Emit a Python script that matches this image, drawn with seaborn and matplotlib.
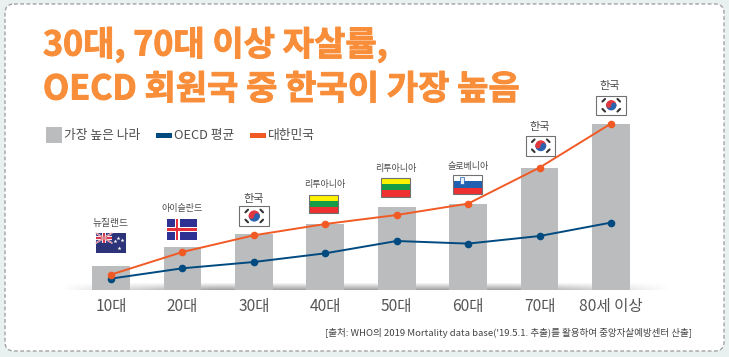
import matplotlib
matplotlib.use("Agg")
import matplotlib.pyplot as plt
import matplotlib.patheffects as pe
import numpy as np
import pandas as pd
import seaborn as sns
from matplotlib.patches import Circle, FancyBboxPatch, Rectangle, Wedge

# values are bar/line heights (no axis in the original)
AGE_GROUPS = ["10대", "20대", "30대", "40대", "50대", "60대", "70대", "80세 이상"]
HIGHEST = [24.5, 43.5, 56.5, 66.5, 83.5, 86.5, 122.5, 166.5]
OECD_AVG = [11.4, 21.7, 28.0, 36.7, 49.0, 46.4, 54.0, 67.4]
KOREA = [15.4, 38.0, 54.7, 66.0, 75.0, 86.4, 122.4, 166.4]
COUNTRIES = ["뉴질랜드", "아이슬란드", "한국", "리투아니아", "리투아니아", "슬로베니아", "한국", "한국"]

W, H = 729, 357
GRAY = "#bbbcbe"
BLUE = "#004a80"
RED = "#f15a24"
ORANGE = "#f98e3a"
TEXT = "#4d4d4d"


def draw_nz(ax, x, y, w, h):
    ax.add_patch(Rectangle((x, y), w, h, fc="#2c3378", ec="none"))
    cw, ch = w * 0.53, h * 0.5
    ax.add_patch(Rectangle((x, y), cw, ch, fc="#3a3f86", ec="none"))
    ax.plot([x, x + cw], [y, y + ch], color="#f4e4e6", lw=1.2)
    ax.plot([x, x + cw], [y + ch, y], color="#f4e4e6", lw=1.2)
    ax.plot([x, x + cw], [y, y + ch], color="#d2394f", lw=0.4)
    ax.plot([x, x + cw], [y + ch, y], color="#d2394f", lw=0.4)
    ax.add_patch(Rectangle((x + cw / 2 - 1.6, y), 3.2, ch, fc="#f4e4e6", ec="none"))
    ax.add_patch(Rectangle((x, y + ch / 2 - 1.6), cw, 3.2, fc="#f4e4e6", ec="none"))
    ax.add_patch(Rectangle((x + cw / 2 - 0.9, y), 1.8, ch, fc="#d2394f", ec="none"))
    ax.add_patch(Rectangle((x, y + ch / 2 - 0.9), cw, 1.8, fc="#d2394f", ec="none"))
    for sx, sy in [(0.75, 0.25), (0.62, 0.42), (0.88, 0.36), (0.76, 0.75)]:
        ax.plot(x + sx * w, y + sy * h, marker="*", ms=3, color="white", mew=0)


def draw_iceland(ax, x, y, w, h):
    ax.add_patch(Rectangle((x, y), w, h, fc="#2e3192", ec="none"))
    cx = x + w * 0.34
    ax.add_patch(Rectangle((cx - 2.6, y), 5.2, h, fc="white", ec="none"))
    ax.add_patch(Rectangle((x, y + h / 2 - 2.6), w, 5.2, fc="white", ec="none"))
    ax.add_patch(Rectangle((cx - 1.3, y), 2.6, h, fc="#e8303a", ec="none"))
    ax.add_patch(Rectangle((x, y + h / 2 - 1.3), w, 2.6, fc="#e8303a", ec="none"))


def draw_lithuania(ax, x, y, w, h):
    for i, c in enumerate(["#fff200", "#169b46", "#ee3130"]):
        ax.add_patch(Rectangle((x, y + i * h / 3), w, h / 3, fc=c, ec="none"))
    ax.add_patch(Rectangle((x, y), w, h, fc="none", ec="#707070", lw=0.8))


def draw_slovenia(ax, x, y, w, h):
    for i, c in enumerate(["white", "#2060b0", "#ee3130"]):
        ax.add_patch(Rectangle((x, y + i * h / 3), w, h / 3, fc=c, ec="none"))
    ax.add_patch(Rectangle((x + 7, y + 2.5), 4.5, 7, fc="#e8eef8", ec="#2060b0", lw=0.5))
    ax.add_patch(Rectangle((x, y), w, h, fc="none", ec="#707070", lw=0.8))


def draw_korea(ax, x, y, w, h):
    ax.add_patch(Rectangle((x, y), w, h, fc="white", ec="#707070", lw=0.8))
    cx, cy = x + w / 2, y + h / 2
    r = h * 0.28
    ax.add_patch(Wedge((cx, cy), r, 180, 360, fc="#e0383e", ec="none"))
    ax.add_patch(Wedge((cx, cy), r, 0, 180, fc="#2a62ad", ec="none"))
    ax.add_patch(Circle((cx - r / 2, cy), r / 2, fc="#e0383e", ec="none"))
    ax.add_patch(Circle((cx + r / 2, cy), r / 2, fc="#2a62ad", ec="none"))
    for sx, sy in [(-1, -1), (1, -1), (-1, 1), (1, 1)]:
        ax.plot([cx + sx * 7.5 - 1.3, cx + sx * 7.5 + 1.3],
                [cy + sy * 5 + sx * sy * 1.3, cy + sy * 5 - sx * sy * 1.3],
                color="#333333", lw=1.5)


def main() -> None:
    sns.set_theme(style="white")
    plt.rcParams["font.family"] = ["Noto Sans CJK KR", "DejaVu Sans"]

    fig = plt.figure(figsize=(W / 100, H / 100), dpi=100, facecolor="#e8f0f0")

    # pixel-space layer for frame, title, legend, flags
    bg = fig.add_axes([0, 0, 1, 1], zorder=0)
    bg.set_xlim(0, W)
    bg.set_ylim(H, 0)
    bg.axis("off")
    bg.add_patch(FancyBboxPatch((13, 12), 703, 331, boxstyle="round,pad=8,rounding_size=9",
                                fc="white", ec="#9a9a9a", lw=0.9, ls=(0, (3, 2))))

    # soft shadow along the base
    fade = np.linspace(0, 1, 8)[:, None] * np.minimum(1, np.minimum(np.linspace(0, 4, 300), np.linspace(4, 0, 300)))
    shadow = np.zeros((8, 300, 4))
    shadow[..., :3] = 0.5
    shadow[..., 3] = fade * 0.7
    bg.imshow(shadow, extent=(60, 670, 290, 282), aspect="auto", zorder=1, interpolation="bilinear")
    bg.set_xlim(0, W)
    bg.set_ylim(H, 0)

    stroke = [pe.withStroke(linewidth=0.7, foreground=ORANGE)]
    bg.text(43, 45, "30대, 70대 이상 자살률,", fontsize=24.5, fontweight="black", color=ORANGE,
            va="center", path_effects=stroke)
    bg.text(43, 89, "OECD 회원국 중 한국이 가장 높음", fontsize=24.5, fontweight="black", color=ORANGE,
            va="center", path_effects=stroke)

    # legend
    bg.add_patch(Rectangle((46, 127), 16, 16, fc=GRAY, ec="none"))
    bg.text(64, 135, "가장 높은 나라", fontsize=9.2, color=TEXT, va="center")
    bg.add_patch(Rectangle((156, 133), 16, 5, fc=BLUE, ec="none"))
    bg.text(174, 135, "OECD 평균", fontsize=9.2, color=TEXT, va="center")
    bg.add_patch(Rectangle((250, 133), 16, 5, fc=RED, ec="none"))
    bg.text(268, 135, "대한민국", fontsize=9.2, color=TEXT, va="center")

    # flags
    draw_nz(bg, 96, 233, 30, 20)
    draw_iceland(bg, 167, 219, 30, 21)
    draw_korea(bg, 239.5, 206, 29.5, 20)
    draw_lithuania(bg, 309, 194.5, 29.5, 18.5)
    draw_lithuania(bg, 381, 178, 29.5, 18.5)
    draw_slovenia(bg, 453, 174.5, 29.5, 19.5)
    draw_korea(bg, 526, 136, 29.5, 19.5)
    draw_korea(bg, 596.5, 96, 29.5, 18.5)

    label_pos = [(111, 223), (182, 209), (254, 199), (325, 185), (396, 169), (468, 166), (540, 127), (610, 86)]
    label_size = [7, 6.5, 8, 6.5, 6.5, 6.5, 8, 8]
    for name, (px, py), size in zip(COUNTRIES, label_pos, label_size):
        bg.text(px, py, name, fontsize=size, fontweight="medium", color=TEXT, ha="center", va="center")

    bg.text(692, 332.5, "[출처: WHO의 2019 Mortality data base('19.5.1. 추출)를 활용하여 중앙자살예방센터 산출]",
            fontsize=6.9, color="#444444", ha="right", va="center")

    # chart proper: category spacing 71.4 px, baseline at y=290
    ax = fig.add_axes([75.3 / W, (H - 290) / H, 571.4 / W, 190 / H], zorder=1)
    ax.patch.set_alpha(0)
    df = pd.DataFrame({"age": AGE_GROUPS, "highest": HIGHEST, "oecd": OECD_AVG, "korea": KOREA})
    sns.barplot(data=df, x="age", y="highest", color=GRAY, saturation=1, width=0.53, linewidth=0, ax=ax)
    sns.lineplot(data=df, x="age", y="oecd", color=BLUE, lw=1.4, marker="o", ms=5.5, mew=0, sort=False, ax=ax)
    sns.lineplot(data=df, x="age", y="korea", color=RED, lw=1.4, marker="o", ms=5.5, mew=0, sort=False, ax=ax)
    ax.set_xlim(-0.5, 7.5)
    ax.set_ylim(0, 190)
    ax.set_xlabel("")
    ax.set_ylabel("")
    ax.set_yticks([])
    ax.tick_params(axis="x", length=0, pad=6, labelsize=11.2, labelcolor="#555555")
    sns.despine(ax=ax, left=True, bottom=True)

    fig.savefig("out.png", dpi=100, facecolor=fig.get_facecolor())
    plt.close(fig)


if __name__ == "__main__":
    main()
